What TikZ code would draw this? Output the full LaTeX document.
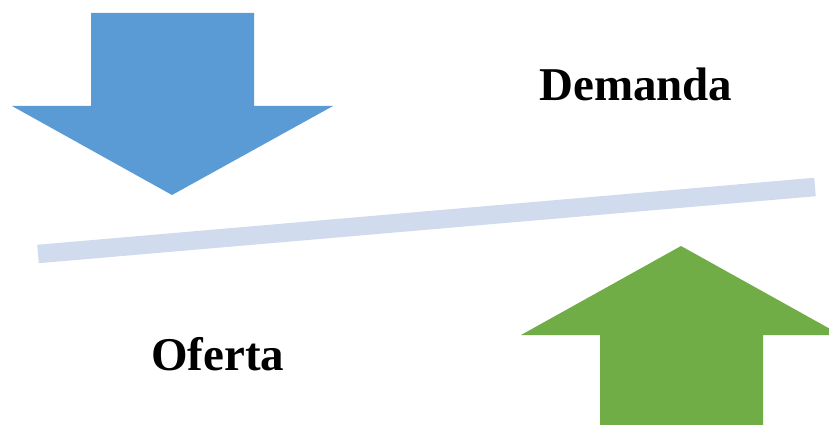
\documentclass[tikz,border=0pt]{standalone}
\usepackage{fontspec}
\setmainfont{Liberation Serif}
\definecolor{arrowblue}{RGB}{91,155,213}
\definecolor{arrowgreen}{RGB}{112,173,71}
\definecolor{barblue}{RGB}{208,220,237}
\tikzset{
  lbl/.style={font=\fontsize{47}{56}\selectfont\bfseries, inner sep=0pt, anchor=base west},
  bar/.style={draw=barblue, line width=18.5pt},
}
\begin{document}
\begin{tikzpicture}[x=1pt,y=-1pt]
\useasboundingbox (0,0) rectangle (829,425);
% blue down arrow
\fill[arrowblue] (91,13) -- (254,13) -- (254,106) -- (333,106) -- (172,195) -- (12,106) -- (91,106) -- cycle;
% green up arrow
\fill[arrowgreen] (600,425) -- (763,425) -- (763,335) -- (841,335) -- (681,246) -- (521,335) -- (600,335) -- cycle;
% bar
\coordinate (bl) at (38,254);
\coordinate (br) at (815,187);
\draw[bar] (bl) -- (br);
% labels
\node[lbl] (dem) at (539,101) {Demanda};
\node[lbl] (ofe) at (151,370) {Oferta};
\end{tikzpicture}
\end{document}
